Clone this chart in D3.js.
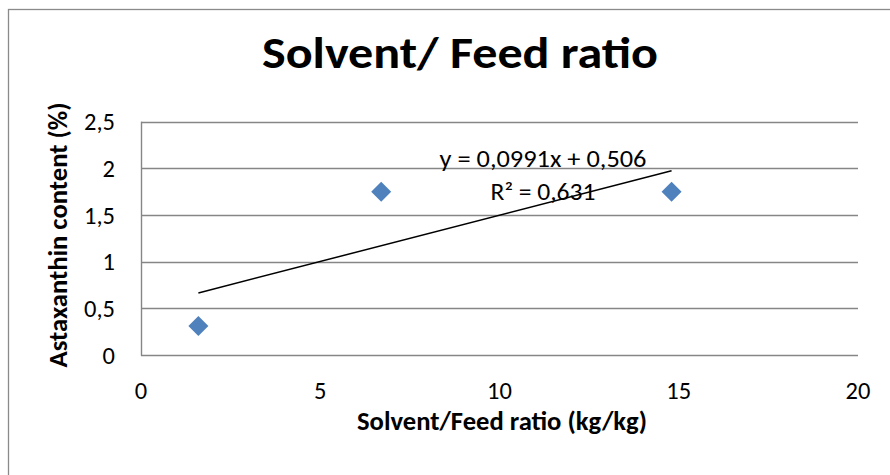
<!DOCTYPE html>
<html>
<head>
<meta charset="utf-8">
<script src="https://cdn.jsdelivr.net/npm/d3@7"></script>
<style>
  body { margin: 0; background: #fff; }
  svg text { font-family: Carlito, Calibri, Lato, sans-serif; fill: #000; }
</style>
</head>
<body>
<svg id="chart" width="890" height="475"></svg>
<script>
// data
var ratio = [1.6, 6.7, 14.8];        // solvent/feed ratio (kg/kg)
var content = [0.31, 1.75, 1.75];    // astaxanthin content (%)
var xTicks = [0, 5, 10, 15, 20];
var yTicks = [0, 0.5, 1, 1.5, 2, 2.5];
var titleText = "Solvent/ Feed ratio";
var xTitle = "Solvent/Feed ratio (kg/kg)";
var yTitle = "Astaxanthin content (%)";
var eqLines = ["y = 0,0991x + 0,506", "R\u00b2 = 0,631"];

var svg = d3.select("#chart");
var fmt = function(v) { return String(v).replace(".", ","); };

// squeeze/stretch a text to the width it has in the picture
function fit(sel, w) {
    sel.attr("textLength", w).attr("lengthAdjust", "spacingAndGlyphs");
}

// chart area border (runs off the right and bottom of the picture)
svg.append("rect")
    .attr("x", 8.5).attr("y", 9.5)
    .attr("width", 1000).attr("height", 1000)
    .attr("fill", "#fff")
    .attr("stroke", "#8a8a8a").attr("stroke-width", 1.3);

var plot = {left: 141, right: 858, top: 121.7, bottom: 355};
var x = d3.scaleLinear().domain([0, 20]).range([plot.left, plot.right]);
var y = d3.scaleLinear().domain([0, 2.5]).range([plot.bottom, plot.top]);

// horizontal gridlines
svg.append("g").selectAll("line")
    .data(yTicks)
    .enter().append("line")
    .attr("x1", plot.left).attr("x2", plot.right)
    .attr("y1", function(d) { return Math.round(y(d)) + 0.5; })
    .attr("y2", function(d) { return Math.round(y(d)) + 0.5; })
    .attr("stroke", "#868686").attr("stroke-width", 1.4);

// vertical axis line
svg.append("line")
    .attr("x1", plot.left + 0.5).attr("x2", plot.left + 0.5)
    .attr("y1", y(2.5)).attr("y2", y(0) + 0.7)
    .attr("stroke", "#868686").attr("stroke-width", 1.4);

// tick labels
svg.append("g").selectAll("text")
    .data(yTicks)
    .enter().append("text")
    .attr("x", 115)
    .attr("y", function(d) { return y(d) + 8.5; })
    .attr("text-anchor", "end")
    .style("font-size", "24.5px")
    .text(fmt);

svg.append("g").selectAll("text")
    .data(xTicks)
    .enter().append("text")
    .attr("x", function(d) { return x(d); })
    .attr("y", 399)
    .attr("text-anchor", "middle")
    .style("font-size", "24.5px")
    .text(fmt);

// titles
svg.append("text")
    .attr("x", 460).attr("y", 68)
    .attr("text-anchor", "middle")
    .style("font-size", "45px").style("font-weight", "bold")
    .text(titleText)
    .call(fit, 396);

svg.append("text")
    .attr("x", 502).attr("y", 430)
    .attr("text-anchor", "middle")
    .style("font-size", "25.5px").style("font-weight", "bold")
    .text(xTitle)
    .call(fit, 290);

svg.append("text")
    .attr("transform", "translate(67,235) rotate(-90)")
    .attr("text-anchor", "middle")
    .style("font-size", "25.5px").style("font-weight", "bold")
    .text(yTitle)
    .call(fit, 265);

// linear trendline, least squares over the points
var mx = d3.mean(ratio), my = d3.mean(content);
var sxy = d3.sum(ratio, function(v, i) { return (v - mx) * (content[i] - my); });
var sxx = d3.sum(ratio, function(v) { return (v - mx) * (v - mx); });
var slope = sxy / sxx, icpt = my - slope * mx;
var ext = d3.extent(ratio);

svg.append("line")
    .attr("x1", x(ext[0])).attr("y1", y(slope * ext[0] + icpt))
    .attr("x2", x(ext[1])).attr("y2", y(slope * ext[1] + icpt))
    .attr("stroke", "#000").attr("stroke-width", 1.5);

// diamond markers
svg.append("g").selectAll("path")
    .data(ratio)
    .enter().append("path")
    .attr("d", d3.symbol(d3.symbolSquare, 200))
    .attr("transform", function(d, i) {
        return "translate(" + x(d) + "," + y(content[i]) + ") rotate(45)";
    })
    .attr("fill", "#4f81bd");

// trendline label
svg.append("g").selectAll("text")
    .data(eqLines)
    .enter().append("text")
    .attr("x", 543)
    .attr("y", function(d, i) { return 167 + i * 32.5; })
    .attr("text-anchor", "middle")
    .style("font-size", "24px")
    .text(function(d) { return d; })
    .each(function(d, i) { d3.select(this).call(fit, i == 0 ? 207 : 105); });
</script>
</body>
</html>
